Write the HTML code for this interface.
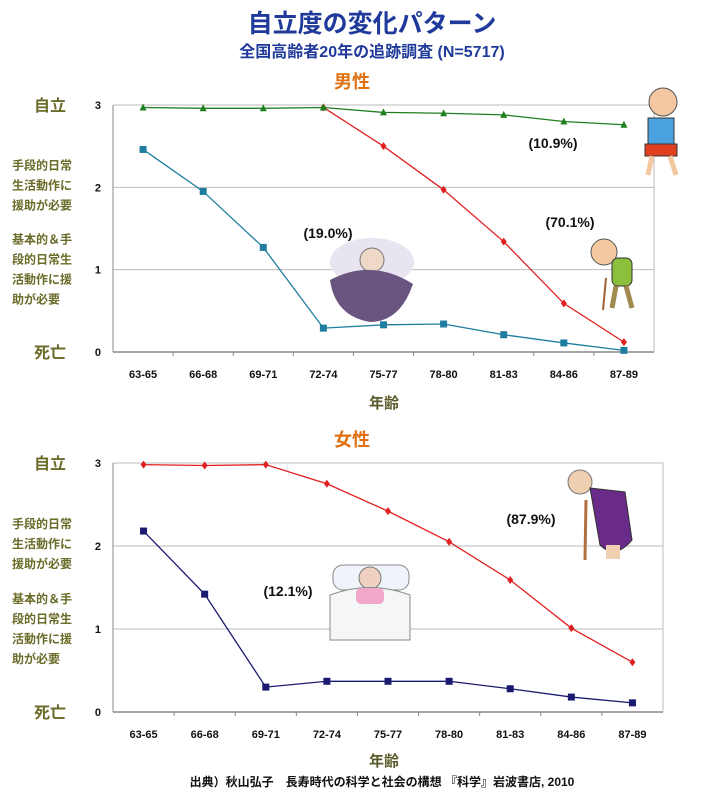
<!DOCTYPE html>
<html><head><meta charset="utf-8">
<style>
body{margin:0;background:#fff;width:703px;height:800px;overflow:hidden;font-family:"Liberation Sans","Noto Sans CJK JP",sans-serif}
svg text{font-family:"Liberation Sans","Noto Sans CJK JP",sans-serif}
</style></head><body>
<svg id="c" width="703" height="800">
<text x="372" y="32" text-anchor="middle" font-size="25" font-weight="bold" fill="#1f3a9a">自立度の変化パターン</text>
<text x="372" y="57" text-anchor="middle" font-size="16" font-weight="bold" fill="#1f3a9a">全国高齢者20年の追跡調査 (N=5717)</text>
<text x="384" y="408" text-anchor="middle" font-size="15" font-weight="bold" fill="#5a5a2a">年齢</text>
<text x="384" y="766" text-anchor="middle" font-size="15" font-weight="bold" fill="#5a5a2a">年齢</text>
<text x="382" y="786" text-anchor="middle" font-size="12" font-weight="bold" fill="#111">出典）秋山弘子　長寿時代の科学と社会の構想 『科学』岩波書店, 2010</text>
<g id="illus">
 <g>
  <circle cx="663" cy="102" r="14" fill="#f3c7a0" stroke="#555"/>
  <rect x="648" y="118" width="26" height="28" fill="#4aa3e0" stroke="#333"/>
  <rect x="645" y="144" width="32" height="12" fill="#e04020" stroke="#333"/>
  <line x1="652" y1="156" x2="648" y2="175" stroke="#f3c7a0" stroke-width="5"/>
  <line x1="670" y1="156" x2="676" y2="175" stroke="#f3c7a0" stroke-width="5"/>
 </g>
 <g>
  <circle cx="604" cy="252" r="13" fill="#f3c7a0" stroke="#555"/>
  <rect x="612" y="258" width="20" height="28" rx="6" fill="#8cbf3c" stroke="#333"/>
  <line x1="616" y1="286" x2="612" y2="308" stroke="#a08a50" stroke-width="5"/>
  <line x1="626" y1="286" x2="632" y2="308" stroke="#a08a50" stroke-width="5"/>
  <line x1="606" y1="278" x2="603" y2="310" stroke="#a06030" stroke-width="2"/>
 </g>
 <g>
  <ellipse cx="372" cy="262" rx="42" ry="24" fill="#e8e4f0"/>
  <circle cx="372" cy="260" r="12" fill="#f0d8c8" stroke="#777"/>
  <path d="M330 280 Q372 258 413 284 Q400 322 370 322 Q335 316 330 280Z" fill="#6a5580"/>
 </g>
 <g>
  <circle cx="580" cy="482" r="12" fill="#f0d0b0" stroke="#777"/>
  <path d="M590 488 L625 492 L632 540 Q615 560 600 545 Z" fill="#6a2a8a" stroke="#333"/>
  <line x1="586" y1="500" x2="585" y2="560" stroke="#b07040" stroke-width="3"/>
  <rect x="606" y="545" width="14" height="14" fill="#f0d0b0"/>
 </g>
 <g>
  <rect x="333" y="565" width="76" height="25" rx="10" fill="#eef4fa" stroke="#888"/>
  <circle cx="370" cy="578" r="11" fill="#f0d0c0" stroke="#777"/>
  <path d="M330 595 Q370 580 410 595 L410 640 L330 640 Z" fill="#f4f6f8" stroke="#888"/>
  <rect x="356" y="588" width="28" height="16" rx="5" fill="#f2a8c8"/>
 </g>
</g>
</svg>
<script>
const categories=["63-65","66-68","69-71","72-74","75-77","78-80","81-83","84-86","87-89"];
const yTicks=[0,1,2,3];
const maleGreen=[2.97,2.96,2.96,2.97,2.91,2.90,2.88,2.80,2.76];
const maleRed=[2.97,2.96,2.96,2.97,2.50,1.97,1.34,0.59,0.12];
const maleBlue=[2.46,1.95,1.27,0.29,0.33,0.34,0.21,0.11,0.02];
const femaleRed=[2.98,2.97,2.98,2.75,2.42,2.05,1.59,1.01,0.60];
const femaleNavy=[2.18,1.42,0.30,0.37,0.37,0.37,0.28,0.18,0.11];
const yLabels=["死亡","基本的＆手\n段的日常生\n活動作に援\n助が必要","手段的日常\n生活動作に\n援助が必要","自立"];
const NS="http://www.w3.org/2000/svg";
const svg=document.getElementById('c');
const illus=document.getElementById('illus');
function mk(t,a,p){const e=document.createElementNS(NS,t);for(const k in a)e.setAttribute(k,a[k]);(p||svg).appendChild(e);return e;}
function chart(cfg){
 const g=document.createElementNS(NS,'g');svg.insertBefore(g,illus);
 
 
 const L=cfg.left,R=cfg.right,T=cfg.top,B=cfg.bottom,n=categories.length,w=(R-L)/n;
 const xS=i=>L+w*(i+0.5), yS=v=>B-(B-T)*v/3;
 const tt=mk('text',{x:352,y:T-17,'text-anchor':'middle','font-size':18,'font-weight':'bold',fill:'#e07010'},g);tt.textContent=cfg.title;
 
 
 yTicks.forEach(v=>{
  const gl=mk('line',{x1:L,x2:R,y1:yS(v),y2:yS(v),stroke:v==0?'#888':'#bbb','stroke-width':v==0?1.5:1},g);
  
  
  const tl=mk('text',{x:L-12,y:yS(v)+4,'text-anchor':'end','font-size':11,'font-weight':'bold',fill:'#111'},g);tl.textContent=v;
  
  
  const lines=yLabels[v].split('\n');
  const big=lines.length==1;
  lines.forEach((s,j)=>{
   const yy=big?yS(v)+6:yS(v)-(v==2?18:26)+j*20;
   const t=mk('text',{x:big?50:12,y:yy,'text-anchor':big?'middle':'start','font-size':big?16:12,'font-weight':'bold',fill:'#6b6b2a'},g);t.textContent=s;
   
   
  });
 });
 mk('line',{x1:L,x2:L,y1:T,y2:B,stroke:'#888'},g);
 mk('line',{x1:R,x2:R,y1:T,y2:B,stroke:'#bbb'},g);
 categories.forEach((c,i)=>{
  if(i>0){mk('line',{x1:L+w*i,x2:L+w*i,y1:B,y2:B+4,stroke:'#888'},g);}
  const t=mk('text',{x:xS(i),y:B+26,'text-anchor':'middle','font-size':11,'font-weight':'bold',fill:'#111'},g);t.textContent=c;
  
  
 });
 cfg.series.forEach(s=>{
  const pts=s.data.map((v,i)=>[xS(i),yS(v)]).slice(s.from||0);
  const pl=mk('polyline',{points:pts.map(p=>p.join(',')).join(' '),fill:'none',stroke:s.color,'stroke-width':1.3},g);
  
  
  pts.forEach(p=>{
   let m;
   if(s.marker=='sq')m=mk('rect',{x:p[0]-3.5,y:p[1]-3.5,width:7,height:7,fill:s.color},g);
   else if(s.marker=='tri')m=mk('polygon',{points:`${p[0]},${p[1]-4} ${p[0]-3.5},${p[1]+3} ${p[0]+3.5},${p[1]+3}`,fill:s.color},g);
   else m=mk('polygon',{points:`${p[0]},${p[1]-4} ${p[0]+3},${p[1]} ${p[0]},${p[1]+4} ${p[0]-3},${p[1]}`,fill:s.color},g);
   
   
  });
 });
 cfg.notes.forEach(n=>{const t=mk('text',{x:n[0],y:n[1],'text-anchor':'middle','font-size':14,'font-weight':'bold',fill:'#111'},g);t.textContent=n[2];
  
  });
}
chart({name:'male-chart',title:'男性',left:113,right:654,top:105,bottom:352,
 series:[{name:'male-red',data:maleRed,color:'#e02020',marker:'dia',from:3},
         {name:'male-green',data:maleGreen,color:'#208020',marker:'tri'},
         {name:'male-blue',data:maleBlue,color:'#1f7ea0',marker:'sq'}],
 notes:[[553,148,'(10.9%)'],[570,227,'(70.1%)'],[328,238,'(19.0%)']]});
chart({name:'female-chart',title:'女性',left:113,right:663,top:463,bottom:712,
 series:[{name:'female-red',data:femaleRed,color:'#e02020',marker:'dia'},
         {name:'female-navy',data:femaleNavy,color:'#1a1a70',marker:'sq'}],
 notes:[[531,524,'(87.9%)'],[288,596,'(12.1%)']]});
</script>
</body></html>
